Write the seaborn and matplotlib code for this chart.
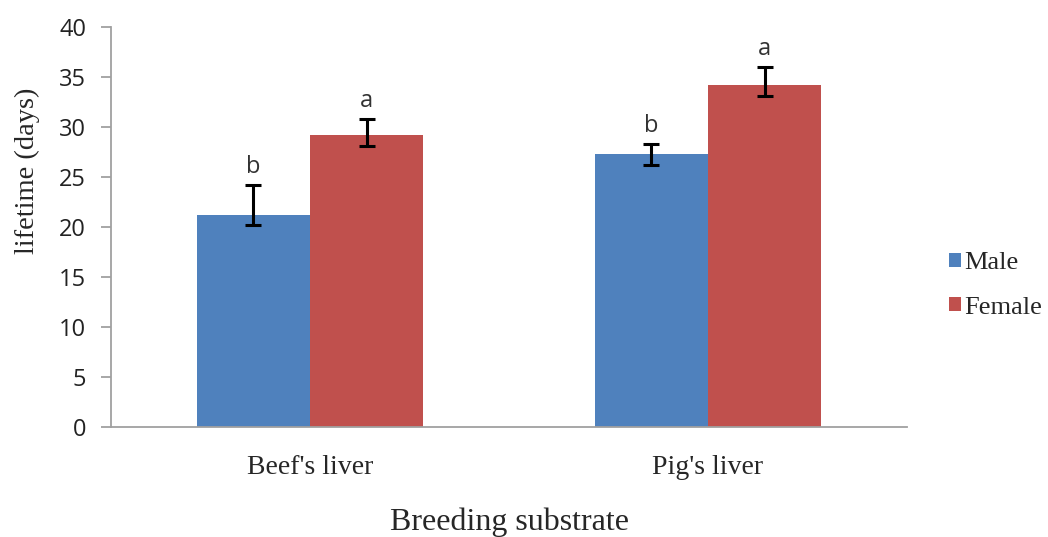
import pandas as pd
import numpy as np
import matplotlib
matplotlib.use("Agg")
import matplotlib.pyplot as plt
import seaborn as sns

# values
substrates = ["Beef's liver", "Pig's liver"]
sexes = ["Male", "Female"]
male_mean = [21.2, 27.3]
female_mean = [29.2, 34.2]
male_err_low = [1.0, 1.1]
male_err_high = [3.0, 1.0]
female_err_low = [1.1, 1.1]
female_err_high = [1.6, 1.8]
male_letters = ["b", "b"]
female_letters = ["a", "a"]

df = pd.DataFrame({
    "substrate": substrates * 2,
    "sex": ["Male"] * 2 + ["Female"] * 2,
    "lifetime": male_mean + female_mean,
})

sns.set_style("white")
fig = plt.figure(figsize=(10.48, 5.37), dpi=100)
ax = fig.add_axes([111 / 1048, 1 - 427 / 537, (907 - 111) / 1048, 400 / 537])

sns.barplot(data=df, x="substrate", y="lifetime", hue="sex", order=substrates,
            hue_order=sexes, palette=["#4F81BD", "#C0504D"], width=0.57,
            saturation=1, errorbar=None, ax=ax, linewidth=0)

# error bars and letters on top of each bar
lows = [male_err_low, female_err_low]
highs = [male_err_high, female_err_high]
letters = [male_letters, female_letters]
bar_groups = list(ax.containers)
for h, cont in enumerate(bar_groups):
    for i, bar in enumerate(cont):
        xc = bar.get_x() + bar.get_width() / 2
        yv = bar.get_height()
        ax.errorbar(xc, yv, yerr=[[lows[h][i]], [highs[h][i]]], fmt="none",
                    ecolor="black", elinewidth=2.2, capsize=6, capthick=2.2)
        ax.text(xc, yv + highs[h][i] + 1.2, letters[h][i], ha="center",
                va="baseline", fontsize=17, family="Open Sans", color="#333333")

ax.set_xlim(-0.5, 1.5)
ax.set_ylim(0, 40)
ax.set_yticks(range(0, 41, 5))
for s in ["top", "right"]:
    ax.spines[s].set_visible(False)
for s in ["left", "bottom"]:
    ax.spines[s].set_color("#A0A0A0")
    ax.spines[s].set_linewidth(1.3)
ax.tick_params(axis="y", left=True, direction="out", length=7, color="#A0A0A0",
               width=1.3, labelsize=17, pad=11)
ax.tick_params(axis="x", bottom=False, length=0, pad=20)
for lbl in ax.get_yticklabels():
    lbl.set_family("Open Sans")
    lbl.set_color("#222222")
for lbl in ax.get_xticklabels():
    lbl.set_family("Liberation Serif")
    lbl.set_fontsize(20)

ax.set_xlabel("Breeding substrate", family="Liberation Serif", fontsize=23, labelpad=20)
ax.set_ylabel("lifetime (days)", family="Liberation Serif", fontsize=20.5)
ax.yaxis.set_label_coords(-0.089, 0.64)

ax.legend(loc="center left", bbox_to_anchor=(949 / 1048, 1 - 285.5 / 537),
          bbox_transform=fig.transFigure, frameon=False,
          prop={"family": "Liberation Serif", "size": 19}, handlelength=0.45,
          handleheight=0.45, handletextpad=0.12, labelspacing=0.85,
          borderpad=0, borderaxespad=0)

fig.savefig("out.png", dpi=100)
